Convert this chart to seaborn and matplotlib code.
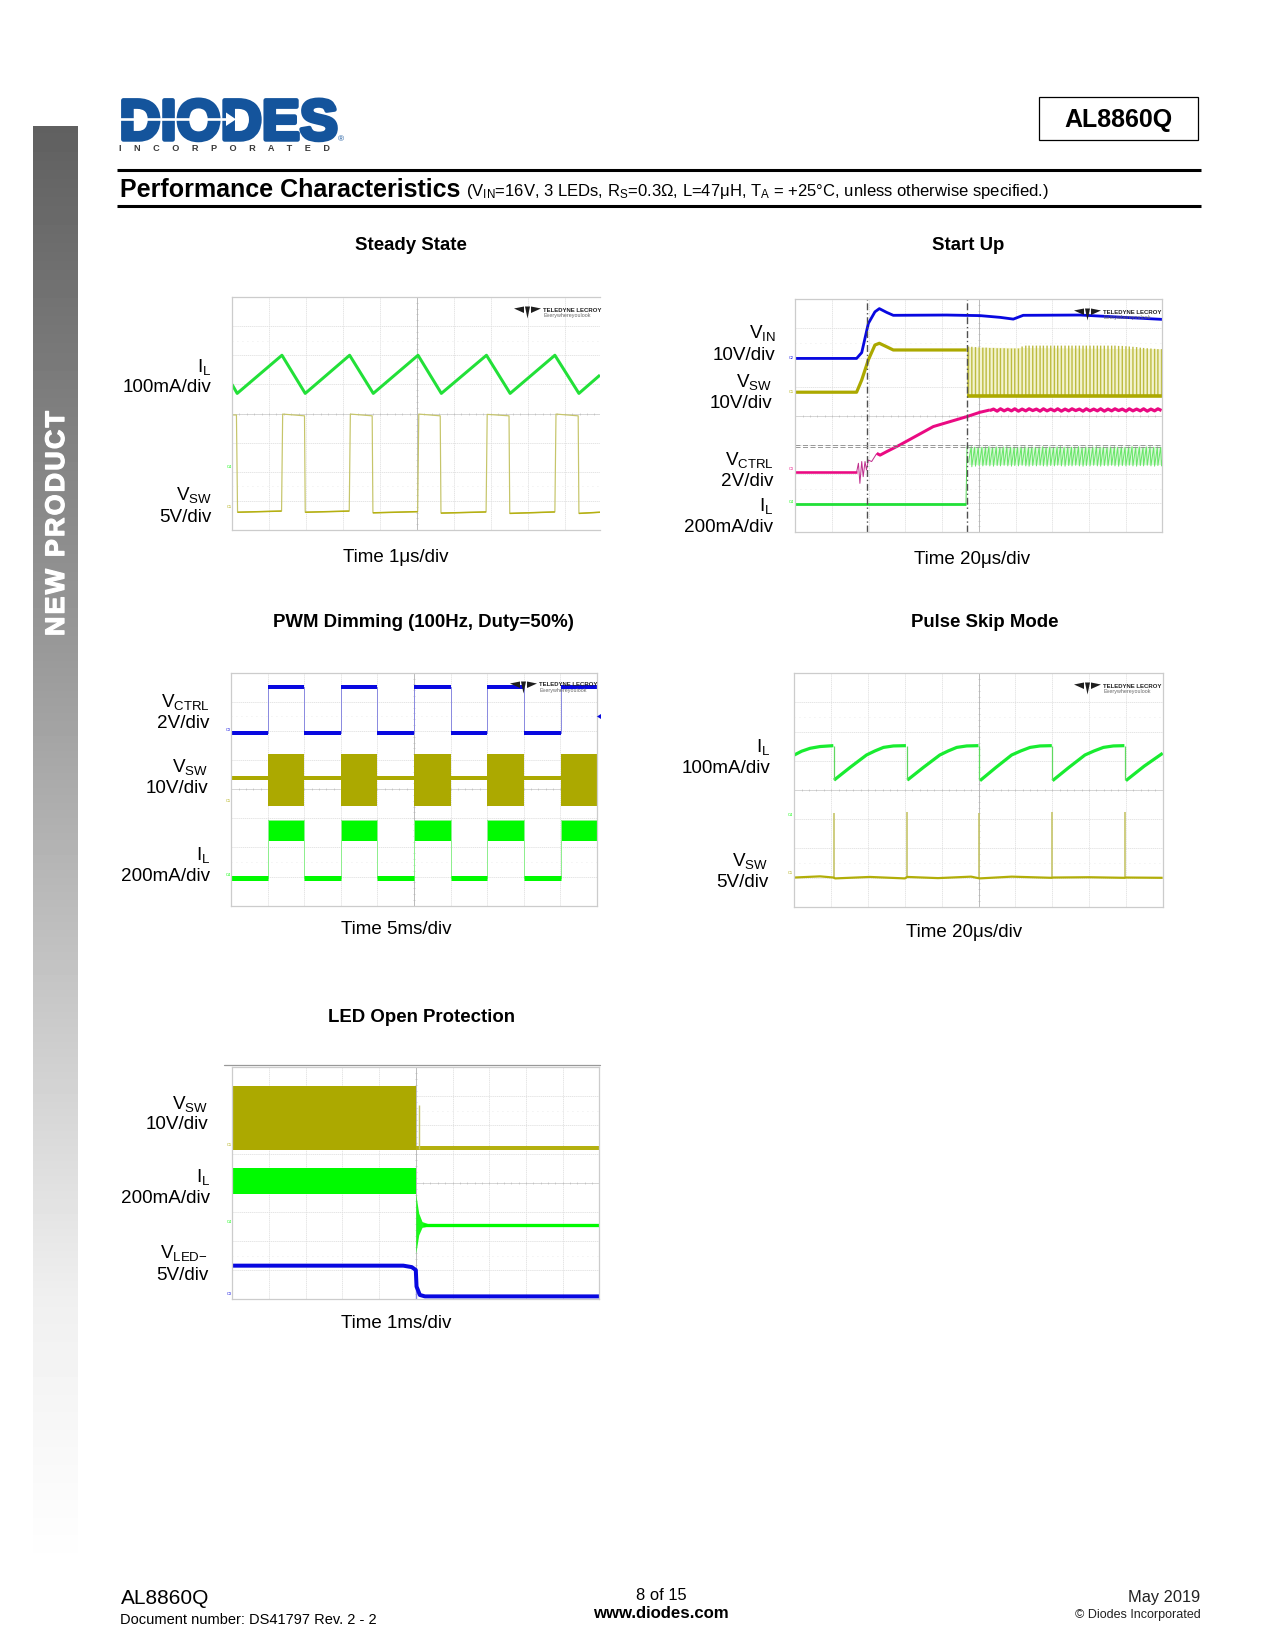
import numpy as np
import matplotlib
matplotlib.use("Agg")
import matplotlib.pyplot as plt
import matplotlib.patheffects as pe
from matplotlib.patches import Polygon, Rectangle
import seaborn as sns

sns.set_theme(style="whitegrid")
plt.rcParams["font.family"] = ["Liberation Sans", "DejaVu Sans"]
plt.rcParams["mathtext.default"] = "regular"
plt.rcParams["mathtext.fontset"] = "custom"
plt.rcParams["mathtext.rm"] = "Liberation Sans"

W, H = 1275, 1650
OLIVE, PALE_OLIVE = "#aca900", "#c6c56a"
GREEN, PALE_GREEN = "#00fa00", "#8fee8f"
BLUE, PALE_BLUE = "#0808e0", "#8c8ce0"
PINK = "#ea0a82"
LOGO_BLUE = "#14549c"

# ---- Steady State (graticule divisions) ----
SS_IL_X = [0, .14, 1.35, 1.98, 3.18, 3.82, 5.03, 5.66, 6.88, 7.52, 8.73, 9.38, 9.95]
SS_IL_Y = [5.00, 4.69, 6.00, 4.69, 6.00, 4.69, 6.00, 4.69, 6.00, 4.69, 6.00, 4.69, 5.32]
SS_SW_X = [0, .12, .15, 1.34, 1.37, 1.96, 1.98, 3.17, 3.20, 3.79, 3.81, 5.02, 5.05, 5.63,
           5.65, 6.87, 6.90, 7.49, 7.51, 8.73, 8.76, 9.36, 9.38, 9.95]
SS_SW_Y = [3.95, 3.95, .61, .65, 3.98, 3.92, .61, .65, 3.98, 3.92, .59, .63, 3.98, 3.92,
           .58, .62, 3.97, 3.92, .57, .62, 3.98, 3.92, .57, .61]

# ---- Start Up ----
SU_VIN_X = [0, 1.67, 1.81, 1.99, 2.17, 2.29, 2.49, 2.67, 4.12, 5.03, 5.58, 5.94, 6.21, 7.76, 8.66, 10]
SU_VIN_Y = [5.97, 5.97, 6.17, 7.17, 7.57, 7.68, 7.55, 7.45, 7.46, 7.44, 7.38, 7.32, 7.45, 7.46, 7.40, 7.31]
SU_SW_X = [0, 1.67, 1.81, 1.99, 2.17, 2.29, 2.49, 2.67, 4.67]
SU_SW_Y = [4.81, 4.81, 5.23, 5.92, 6.43, 6.49, 6.37, 6.26, 6.26]
SU_SW_BASE_X = [4.69, 10]
SU_SW_BASE_Y = [4.69, 4.69]
SU_SWITCH_X = [4.72, 4.81, 4.91, 5.01, 5.11, 5.20, 5.30, 5.40, 5.50, 5.59, 5.69, 5.79, 5.89, 5.98,
               6.08, 6.18, 6.28, 6.37, 6.47, 6.57, 6.67, 6.76, 6.86, 6.96, 7.06, 7.15, 7.25, 7.35,
               7.45, 7.54, 7.64, 7.74, 7.84, 7.93, 8.03, 8.13, 8.23, 8.32, 8.42, 8.52, 8.62, 8.71,
               8.81, 8.91, 9.01, 9.10, 9.20, 9.30, 9.40, 9.49, 9.59, 9.69, 9.79, 9.88, 9.98]
SU_SW_TOP = [6.38, 6.37, 6.36, 6.35, 6.34, 6.34, 6.33, 6.33, 6.32, 6.32, 6.32, 6.31, 6.31, 6.31,
             6.31, 6.38, 6.41, 6.41, 6.41, 6.41, 6.41, 6.41, 6.41, 6.41, 6.41, 6.41, 6.41, 6.41,
             6.41, 6.41, 6.41, 6.41, 6.41, 6.41, 6.41, 6.41, 6.41, 6.41, 6.41, 6.41, 6.41, 6.41,
             6.40, 6.40, 6.39, 6.38, 6.37, 6.36, 6.34, 6.33, 6.32, 6.31, 6.30, 6.29, 6.29]
SU_CTRL_A_X = [0, 1.67]
SU_CTRL_A_Y = [2.06, 2.06]
SU_CTRL_B_X = [1.67, 1.72, 1.76, 1.81, 1.85, 1.90, 1.94, 1.99, 2.08, 2.22]
SU_CTRL_B_Y = [2.06, 2.37, 1.68, 2.43, 1.91, 2.43, 2.14, 2.48, 2.43, 2.71]
SU_CTRL_C_X = [2.22, 2.31, 2.49, 2.85, 3.76, 4.67, 5.03, 5.30]
SU_CTRL_C_Y = [2.71, 2.65, 2.77, 3.00, 3.63, 3.97, 4.12, 4.20]
SU_CTRL_ZIG = [4.17, 4.24, 4.17, 4.23, 4.16, 4.24, 4.18, 4.23, 4.16, 4.24, 4.17, 4.23, 4.17, 4.24,
               4.16, 4.23, 4.17, 4.24, 4.18, 4.23, 4.16, 4.24, 4.17, 4.23, 4.17, 4.24, 4.16, 4.23,
               4.17, 4.24, 4.18, 4.23, 4.16, 4.24, 4.17, 4.23, 4.17, 4.24, 4.16, 4.23, 4.17, 4.24,
               4.18, 4.23, 4.16, 4.24, 4.17, 4.23, 4.17, 4.24, 4.16, 4.23, 4.17, 4.24, 4.18]
SU_IL_X = [0, 4.65]
SU_IL_Y = [.96, .96]
SU_IL_RISE_X = [4.65, 4.68, 4.72]
SU_IL_RISE_Y = [.96, 2.94, 2.94]
SU_IL_PEAK = [2.94, 2.92, 2.93, 2.92, 2.93, 2.94, 2.92, 2.93, 2.92, 2.93, 2.94, 2.92, 2.93, 2.92,
              2.93, 2.94, 2.92, 2.93, 2.92, 2.93, 2.94, 2.92, 2.93, 2.92, 2.93, 2.94, 2.92, 2.93,
              2.92, 2.93, 2.94, 2.92, 2.93, 2.92, 2.93, 2.94, 2.92, 2.93, 2.92, 2.93, 2.94, 2.92,
              2.93, 2.92, 2.93, 2.94, 2.92, 2.93, 2.92, 2.93, 2.94, 2.92, 2.93, 2.92, 2.93]
SU_IL_TROUGH = [2.40, 2.25, 2.27, 2.29, 2.28, 2.30, 2.28, 2.27, 2.29, 2.28, 2.30, 2.28, 2.27, 2.29,
                2.28, 2.30, 2.28, 2.27, 2.29, 2.28, 2.30, 2.28, 2.27, 2.29, 2.28, 2.30, 2.28, 2.27,
                2.29, 2.28, 2.30, 2.28, 2.27, 2.29, 2.28, 2.30, 2.28, 2.27, 2.29, 2.28, 2.30, 2.28,
                2.27, 2.29, 2.28, 2.30, 2.28, 2.27, 2.29, 2.28, 2.30, 2.28, 2.27, 2.29, 2.28]
SU_CURSOR_X = [1.96, 4.69]
SU_CURSOR_Y = [3.00, 2.92]

# ---- PWM Dimming ----
PWM_EDGES = [0, 1.01, 2.00, 3.01, 4.00, 5.01, 6.00, 7.01, 8.01, 9.01, 10]
PWM_CTRL_LOW, PWM_CTRL_HIGH = 5.94, 7.52
PWM_SW_TOP, PWM_SW_BOTTOM, PWM_SW_MID = 5.21, 3.43, 4.40
PWM_IL_TOP, PWM_IL_BOTTOM, PWM_IL_LOW = 2.94, 2.21, 0.95

# ---- Pulse Skip Mode ----
PS_RAMP_X = [[0, .20, .43, .70, 1.06], [1.08, 1.52, 1.96, 2.19, 2.42, 2.69, 3.03],
             [3.07, 3.51, 3.95, 4.18, 4.41, 4.68, 5.00], [5.04, 5.47, 5.90, 6.15, 6.40, 6.67, 6.99],
             [7.01, 7.45, 7.89, 8.14, 8.39, 8.66, 8.96], [9.00, 9.50, 10]]
PS_RAMP_Y = [[5.20, 5.33, 5.43, 5.49, 5.52], [4.34, 4.78, 5.20, 5.34, 5.46, 5.51, 5.52],
             [4.34, 4.78, 5.20, 5.34, 5.46, 5.51, 5.52], [4.32, 4.77, 5.20, 5.34, 5.46, 5.51, 5.52],
             [4.32, 4.77, 5.20, 5.34, 5.46, 5.51, 5.52], [4.32, 4.82, 5.26]]
PS_DROP_X = [1.07, 3.05, 5.02, 7.00, 8.98]
PS_SW_X = [0, .70, 1.06, 1.11, 2.05, 3.00, 3.07, 3.90, 4.80, 5.03, 5.90, 6.99, 7.02, 8.00, 8.97, 9.00, 10]
PS_SW_Y = [1.00, 1.04, 1.00, .97, 1.02, .97, 1.02, .98, 1.03, .97, 1.03, .99, 1.00, 1.01, .99, 1.00, .99]
PS_SPIKE_X = [1.08, 3.05, 5.01, 7.00, 8.97]
PS_SPIKE_TOP = [3.22, 3.24, 3.20, 3.24, 3.24]

# ---- LED Open Protection ----
LO_SW_TOP, LO_SW_BOTTOM, LO_EDGE = 7.36, 5.15, 5.00
LO_SW_AFTER = [5.00, 10]
LO_SW_AFTER_Y = [5.23, 5.23]
LO_SW_SPIKE_X, LO_SW_SPIKE_TOP = 5.10, 6.70
LO_IL_TOP, LO_IL_BOTTOM = 4.54, 3.62
LO_IL_AFTER = [5.20, 10]
LO_IL_AFTER_Y = [2.57, 2.57]
LO_FLARE_X = [5.00, 5.08, 5.17, 5.35]
LO_FLARE_HI = [3.62, 2.97, 2.68, 2.60]
LO_FLARE_LO = [1.59, 2.22, 2.48, 2.53]
LO_LED_X = [0, 4.66, 4.89, 5.00, 5.02, 5.11, 5.25, 10]
LO_LED_Y = [1.16, 1.16, 1.11, 1.01, .44, .15, .10, .10]

# ---- Page texts ----
LOGO_WORD = "DIODES"
LOGO_SUB = "I     N     C     O     R     P     O     R     A     T     E     D"
PART = "AL8860Q"
HEAD_TITLE = "Performance Characteristics"
HEAD_SUB = "(V$_{IN}$=16V, 3 LEDs, R$_{S}$=0.3Ω, L=47μH, T$_{A}$ = +25°C, unless otherwise specified.)"
SIDE = "\u200a".join("NEW PRODUCT")
TITLES = [("Steady State", 411, 250.5), ("Start Up", 968, 250.5),
          ("PWM Dimming (100Hz, Duty=50%)", 423, 627), ("Pulse Skip Mode", 985, 627),
          ("LED Open Protection", 421, 1021.5)]
TIMES = [("Time 1μs/div", 396, 562), ("Time 20μs/div", 972, 564),
         ("Time 5ms/div", 396, 934), ("Time 20μs/div", 964, 937), ("Time 1ms/div", 396, 1328)]
LABELS = [("I$_{L}$", 211, 372), ("100mA/div", 211, 392), ("V$_{SW}$", 212, 500), ("5V/div", 212, 522),
          ("V$_{IN}$", 775.5, 338), ("10V/div", 775.5, 360), ("V$_{SW}$", 772.5, 387), ("10V/div", 772.5, 408),
          ("V$_{CTRL}$", 773.5, 465), ("2V/div", 773.5, 486), ("I$_{L}$", 773, 511), ("200mA/div", 773, 532),
          ("V$_{CTRL}$", 210, 707), ("2V/div", 210, 728), ("V$_{SW}$", 208, 772), ("10V/div", 208, 793),
          ("I$_{L}$", 210, 860), ("200mA/div", 210, 881),
          ("I$_{L}$", 770.5, 752), ("100mA/div", 770.5, 773), ("V$_{SW}$", 768.5, 866), ("5V/div", 768.5, 887),
          ("V$_{SW}$", 208, 1109), ("10V/div", 208, 1129), ("I$_{L}$", 210, 1182), ("200mA/div", 210, 1203),
          ("V$_{LED{-}}$", 208, 1258), ("5V/div", 209, 1280)]
CHANNEL_TAGS = [("C4", 229, 468, GREEN), ("C1", 229, 508, OLIVE),
                ("C2", 791, 359, BLUE), ("C1", 791, 393, OLIVE), ("C3", 791, 470, PINK), ("C4", 791, 503, GREEN),
                ("C3", 228, 731, BLUE), ("C1", 228, 802, OLIVE), ("C4", 228, 876, GREEN),
                ("C4", 790, 816, GREEN), ("C1", 790, 874, OLIVE),
                ("C1", 229, 1146, OLIVE), ("C4", 229, 1223, GREEN), ("C3", 229, 1295, BLUE)]
LOGOS = [(514, 311), (1074, 313), (510, 686), (1074, 687)]

fig = plt.figure(figsize=(W / 100, H / 100), dpi=100, facecolor="white")


def panel(left, top, right, bottom, xmax=10, right_border=True):
    ax = fig.add_axes([left / W, 1 - bottom / H, (right - left) / W, (bottom - top) / H])
    ax.set_xlim(0, xmax)
    ax.set_ylim(0, 8)
    ax.set_xticks(range(0, 11 if xmax >= 10 else 10))
    ax.set_yticks(range(0, 9))
    ax.tick_params(length=0, labelbottom=False, labelleft=False)
    ax.grid(True, color="#e0e0e0", lw=.6, ls=(0, (1.5, .8)))
    ax.set_axisbelow(True)
    for name, sp in ax.spines.items():
        sp.set_color("#cccccc")
        sp.set_linewidth(.9)
    ax.spines["right"].set_visible(right_border)
    for yv in (1.5, 6.5):
        ax.axhline(yv, color="#e6e6e6", lw=.6, ls=(0, (1, 5)), zorder=.6)
    ax.axvline(5, color="#bcbcbc", lw=.7, zorder=.6)
    ax.axhline(4, color="#d2d2d2", lw=.6, zorder=.6)
    ticks = np.arange(.2, xmax, .2)
    ax.plot(ticks, np.full_like(ticks, 4), ls="none", marker="|", ms=1.8, mew=.4, color="#b4b4b4", zorder=.6)
    tk = np.arange(.2, 8, .2)
    ax.plot(np.full_like(tk, 5), tk, ls="none", marker="_", ms=1.8, mew=.4, color="#b4b4b4", zorder=.6)
    return ax


def trace(ax, x, y, color, px):
    sns.lineplot(x=list(x), y=list(y), ax=ax, sort=False, estimator=None, errorbar=None,
                 color=color, linewidth=px * .72, solid_capstyle="butt", legend=False)
    ax.set_xlabel("")
    ax.set_ylabel("")


# ---- Steady State ----
a1 = panel(232, 297, 600, 530, xmax=9.95, right_border=False)
trace(a1, SS_SW_X, SS_SW_Y, PALE_OLIVE, 1.2)
for i in range(2, len(SS_SW_X) - 1, 4):
    trace(a1, SS_SW_X[i:i + 2], SS_SW_Y[i:i + 2], "#b5b010", 1.5)
trace(a1, SS_IL_X, SS_IL_Y, "#22e038", 3)

# ---- Start Up ----
a2 = panel(795.3, 299.3, 1162.3, 532.3)
a2.fill_between([4.70, 10], 4.69, [6.36, 6.30], color="#f3f3cf", lw=0)
spikes = a2.vlines(SU_SWITCH_X, 4.69, SU_SW_TOP, color="#bdbc40", lw=1.0)
spikes.set_snap(False)
trace(a2, SU_SW_X, SU_SW_Y, OLIVE, 3.2)
a2.plot([4.69, 4.69], [4.69, 6.26], color=PALE_OLIVE, lw=.8)
trace(a2, SU_SW_BASE_X, SU_SW_BASE_Y, OLIVE, 3.6)
trace(a2, SU_VIN_X, SU_VIN_Y, BLUE, 2.8)
trace(a2, SU_CTRL_A_X, SU_CTRL_A_Y, PINK, 2.6)
trace(a2, SU_CTRL_B_X, SU_CTRL_B_Y, "#c0308e", 1)
trace(a2, SU_CTRL_C_X, SU_CTRL_C_Y, PINK, 3)
trace(a2, SU_SWITCH_X[6:], SU_CTRL_ZIG[6:], PINK, 3.2)
saw_x, saw_y = [], []
for sx, pk, tr in zip(SU_SWITCH_X, SU_IL_PEAK, SU_IL_TROUGH):
    saw_x += [sx, sx + .075]
    saw_y += [tr, pk]
a2.fill_between([4.72, 10], 2.3, 2.92, color="#dcf8dc", lw=0, zorder=1)
trace(a2, saw_x, saw_y, "#68e668", 1)
trace(a2, SU_IL_RISE_X, SU_IL_RISE_Y, "#58dc58", 1)
trace(a2, SU_IL_X, SU_IL_Y, "#22e038", 2.8)
for cx in SU_CURSOR_X:
    a2.axvline(cx, color="#505050", lw=1, ls=(0, (5, 2, 1, 2)))
for cy in SU_CURSOR_Y:
    a2.axhline(cy, color="#8a8a8a", lw=.6, ls=(0, (6, 3)))

# ---- PWM Dimming ----
a3 = panel(231.3, 672.7, 596.7, 905.7)
ctrl_x, ctrl_y, il_x, il_y = [0], [PWM_CTRL_HIGH], [0], [PWM_IL_TOP]
for k in range(len(PWM_EDGES) - 1):
    e0, e1 = PWM_EDGES[k], PWM_EDGES[k + 1]
    on = k % 2 == 1
    clevel = PWM_CTRL_HIGH if on else PWM_CTRL_LOW
    ilevel = PWM_IL_TOP if on else PWM_IL_LOW
    ctrl_x += [e0, e1]
    ctrl_y += [clevel, clevel]
    il_x += [e0, e1]
    il_y += [ilevel, ilevel]
ctrl_x.append(10)
ctrl_y.append(PWM_CTRL_LOW)
trace(a3, ctrl_x, ctrl_y, PALE_BLUE, 1)
trace(a3, il_x, il_y, PALE_GREEN, 1)
for k in range(len(PWM_EDGES) - 1):
    e0, e1 = PWM_EDGES[k], PWM_EDGES[k + 1]
    if k % 2 == 1:
        trace(a3, [e0, e1], [PWM_CTRL_HIGH, PWM_CTRL_HIGH], BLUE, 4)
        a3.fill_between([e0, e1], PWM_SW_BOTTOM, PWM_SW_TOP, color=OLIVE, lw=0)
        a3.fill_between([e0, e1], PWM_IL_BOTTOM, PWM_IL_TOP, color=GREEN, lw=0)
    else:
        trace(a3, [e0, e1], [PWM_CTRL_LOW, PWM_CTRL_LOW], BLUE, 4)
        trace(a3, [e0, e1], [PWM_SW_MID, PWM_SW_MID], OLIVE, 4)
        trace(a3, [e0, e1], [PWM_IL_LOW, PWM_IL_LOW], GREEN, 5)

# ---- Pulse Skip ----
a4 = panel(794.3, 673.3, 1162.7, 906.7)
for rx, ry in zip(PS_RAMP_X, PS_RAMP_Y):
    trace(a4, rx, ry, "#18ec30", 3.2)
a4.vlines(PS_DROP_X, 4.34, 5.52, color="#60d860", lw=.9)
a4.vlines(PS_SPIKE_X, 1.0, PS_SPIKE_TOP, color=PALE_OLIVE, lw=1.2)
trace(a4, PS_SW_X, PS_SW_Y, "#b2ae08", 2.2)

# ---- LED Open ----
a5 = panel(232.3, 1067.3, 599.3, 1299.3)
a5.fill_between([0, LO_EDGE], LO_SW_BOTTOM, LO_SW_TOP, color=OLIVE, lw=0)
trace(a5, LO_SW_AFTER, LO_SW_AFTER_Y, "#b4b010", 4)
a5.vlines([LO_SW_SPIKE_X], 5.2, LO_SW_SPIKE_TOP, color=PALE_OLIVE, lw=1)
a5.fill_between([0, LO_EDGE], LO_IL_BOTTOM, LO_IL_TOP, color=GREEN, lw=0)
a5.fill_between(LO_FLARE_X, LO_FLARE_LO, LO_FLARE_HI, color=GREEN, lw=0, alpha=.9)
trace(a5, LO_IL_AFTER, LO_IL_AFTER_Y, GREEN, 3.3)
a5.vlines([LO_EDGE], 0, 1.0, color=PALE_BLUE, lw=1)
trace(a5, LO_LED_X, LO_LED_Y, BLUE, 4)

# ---- Page overlay, in pixels ----
page = fig.add_axes([0, 0, 1, 1], zorder=20)
page.set_xlim(0, W)
page.set_ylim(H, 0)
page.axis("off")
page.patch.set_alpha(0)

# side bar gradient (decorative background)
stops_y = [126, 650, 1300, 1570]
stops_v = [.376, .60, .94, 1.0]
grad = np.interp(np.arange(126, 1570), stops_y, stops_v)[:, None]
page.imshow(grad, extent=(33, 78, 1570, 126), cmap="gray", vmin=0, vmax=1, aspect="auto", zorder=1)
page.set_xlim(0, W)
page.set_ylim(H, 0)


def T(x, y, s, size, ha="left", weight="normal", color="black", **kw):
    return page.text(x, y, s, fontsize=size, ha=ha, va="baseline", fontweight=weight, color=color, **kw)


side = T(64, 524, SIDE, 19.3, ha="center", weight="bold", color="white", rotation=90,
         rotation_mode="anchor", zorder=3)
side.set_path_effects([pe.withStroke(linewidth=.9, foreground="white")])

# brand logo
word = T(119.5, 139.5, LOGO_WORD, 41, weight="bold", color=LOGO_BLUE)
word.set_path_effects([pe.withStroke(linewidth=3.2, foreground=LOGO_BLUE)])
page.plot([119, 226], [119.3, 119.3], color="white", lw=1.9, solid_capstyle="butt", zorder=5)
page.add_patch(Polygon([[226, 112.5], [236, 119.3], [226, 126]], closed=True, fc="white", ec="none", zorder=5))
T(341, 141, "®", 6, ha="center", color=LOGO_BLUE)
T(119, 151, LOGO_SUB, 6.6, weight="bold", color="#3a3a3a")

# header
page.add_patch(Rectangle((1038.5, 96.5), 159, 43.5, fc="none", ec="black", lw=.9))
T(1118.5, 127, PART, 18, ha="center", weight="bold")
page.plot([117, 1201], [169.5, 169.5], color="black", lw=2.2, solid_capstyle="butt")
page.plot([117, 1201], [205.5, 205.5], color="black", lw=2.2, solid_capstyle="butt")
T(120.5, 197, HEAD_TITLE, 18, weight="bold")
T(466, 196, HEAD_SUB, 12)

for s, x, y in TITLES:
    T(x, y, s, 13.4, ha="center", weight="bold")
for s, x, y in TIMES:
    T(x, y, s, 13.5, ha="center")
for s, x, y in LABELS:
    T(x, y, s, 13.6, ha="right")
for s, x, y, c in CHANNEL_TAGS:
    T(x, y, s, 2.8, ha="center", color=c)
page.add_patch(Polygon([[601, 714], [597, 716.5], [601, 719]], closed=True, fc=BLUE, ec="none"))

# oscilloscope makers' marks
FAN = [[[0, -2.5], [10, -4.5], [10, 2]], [[27, -2.5], [17, -4.5], [17, 2]],
       [[11, -4.5], [16, -4.5], [13.5, 7.5]]]
for lx, ly in LOGOS:
    for tri in FAN:
        page.add_patch(Polygon([[lx + p[0], ly + p[1]] for p in tri], closed=True, fc="#1e1e1e", ec="none", zorder=6))
    T(lx + 29, ly + .5, "TELEDYNE LECROY", 4.3, weight="bold", color="#222222", zorder=6)
    T(lx + 29, ly + 6, "Everywhereyoulook", 3.9, color="#666666", zorder=6)

page.plot([224, 600], [1065.3, 1065.3], color="#999999", lw=.9)

# footer
T(120.5, 1604.5, PART, 15)
T(120.5, 1623.5, "Document number: DS41797 Rev. 2 - 2", 10.55)
T(661, 1600, "8 of 15", 11.9, ha="center")
T(661, 1618.5, "www.diodes.com", 12.1, ha="center", weight="bold")
T(1200.5, 1602, "May 2019", 11.8, ha="right", color="#222222")
T(1200.5, 1618, "© Diodes Incorporated", 9, ha="right", color="#222222")

fig.savefig("out.png", dpi=100, facecolor="white")
